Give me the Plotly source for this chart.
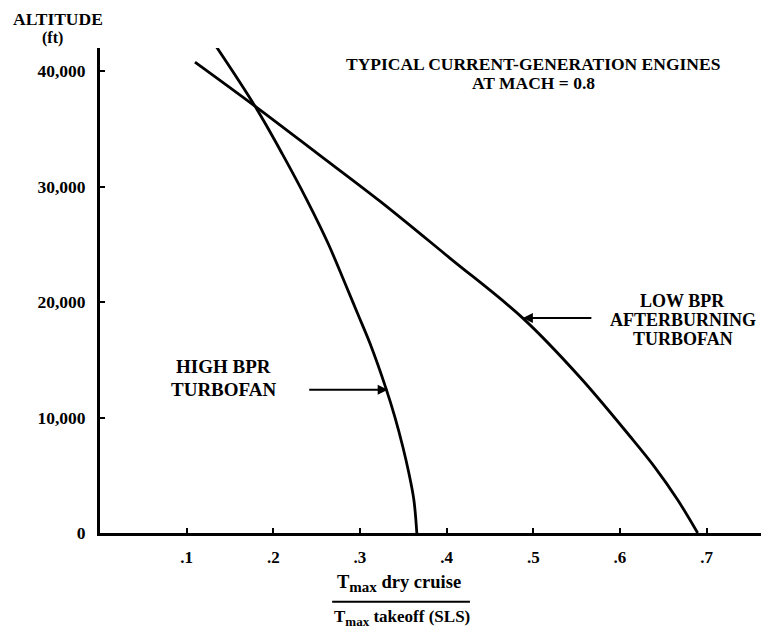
import plotly.graph_objects as go

# ---- data ----
high_bpr_x = [0.1315, 0.1788, 0.2105, 0.2388, 0.2630, 0.2826, 0.2970, 0.3114, 0.3299, 0.3403, 0.3495, 0.3564, 0.3622, 0.3656]
high_bpr_alt = [42420, 36970, 32810, 28830, 25110, 21650, 19050, 16450, 12550, 10040, 7450, 5190, 2860, 0]

low_bpr_x = [0.1096, 0.1788, 0.2503, 0.3230, 0.4037, 0.4879, 0.5536, 0.6113, 0.6401, 0.6667, 0.6897]
low_bpr_alt = [40780, 36970, 32900, 28740, 23810, 18610, 13510, 8400, 5710, 2860, 0]

x_tickvals = [0.1, 0.2, 0.3, 0.4, 0.5, 0.6, 0.7]
x_ticktext = [".1", ".2", ".3", ".4", ".5", ".6", ".7"]
y_tickvals = [0, 10000, 20000, 30000, 40000]
y_ticktext = ["0", "10,000", "20,000", "30,000", "40,000"]

FONT = "Liberation Serif"
BLACK = "#000000"

fig = go.Figure()
for xs, ys in [(high_bpr_x, high_bpr_alt), (low_bpr_x, low_bpr_alt)]:
    fig.add_trace(go.Scatter(x=xs, y=ys, mode="lines",
                             line=dict(color=BLACK, width=2.8, shape="spline", smoothing=1.0),
                             showlegend=False, hoverinfo="skip", cliponaxis=False))


def txt(text, size=17, **kw):
    d = dict(text=text, showarrow=False, font=dict(size=size, family=FONT, color=BLACK, weight="bold"))
    d.update(kw)
    return d


def frac_part(main, subsize):
    return "T<sub><span style='font-size:%dpx'>max</span></sub> %s" % (subsize, main)


anns = []
# axis title (top-left)
anns.append(txt("ALTITUDE", 17.5, xref="paper", yref="paper", x=-0.0635, y=1.0, xanchor="center",
                yanchor="middle", yshift=29))
anns.append(txt("(ft)", 16, xref="paper", yref="paper", x=-0.0717, y=1.0, xanchor="center",
                yanchor="middle", yshift=10))
# chart title block
anns.append(txt("TYPICAL CURRENT-GENERATION ENGINES", 17.5, xref="x", yref="y", x=0.5, y=40000,
                xanchor="center", yanchor="middle", yshift=7))
anns.append(txt("AT MACH = 0.8", 17.5, xref="x", yref="y", x=0.5, y=40000,
                xanchor="center", yanchor="middle", yshift=-12))
# series labels
for i, t in enumerate(["HIGH BPR", "TURBOFAN"]):
    anns.append(txt(t, 19, xref="x", yref="y", x=0.1424, y=13380, xanchor="center",
                    yanchor="middle", yshift=11.5 - 23 * i))
for i, t in enumerate(["LOW BPR", "AFTERBURNING", "TURBOFAN"]):
    anns.append(txt(t, 18, xref="x", yref="y", x=0.6725, y=18440, xanchor="center",
                    yanchor="middle", yshift=19 - 19 * i))
# arrows
anns.append(dict(text="", x=0.332, y=12400, xref="x", yref="y", ax=-80, ay=0, showarrow=True,
                 arrowhead=2, arrowsize=1, arrowwidth=2, arrowcolor=BLACK))
anns.append(dict(text="", x=0.488, y=18615, xref="x", yref="y", ax=70, ay=0, showarrow=True,
                 arrowhead=2, arrowsize=1, arrowwidth=2, arrowcolor=BLACK))
# x origin label
anns.append(txt("0", 17, xref="x", yref="paper", x=-0.014, y=0, xanchor="center",
                yanchor="middle", yshift=-24))
# x axis title as a fraction
anns.append(txt(frac_part("dry cruise", 15), 18.5, xref="paper", yref="paper", x=0.447, y=0,
                xanchor="center", yanchor="middle", yshift=-50))
anns.append(txt(frac_part("takeoff (SLS)", 13), 17, xref="paper", yref="paper", x=0.451, y=0,
                xanchor="center", yanchor="middle", yshift=-85))

# The page body has an 8px default margin, so the figure is sized to fit the window.
fig.update_layout(
    width=761, height=622,
    margin=dict(l=92, r=0, t=40, b=97, autoexpand=False),
    paper_bgcolor="white", plot_bgcolor="white",
    font=dict(family=FONT, color=BLACK, size=16),
    annotations=anns,
    shapes=[dict(type="line", xref="paper", yref="paper", x0=0.347, x1=0.553, y0=-0.142, y1=-0.142,
                 line=dict(color=BLACK, width=2))],
    xaxis=dict(range=[0, 0.772], showline=True, linewidth=3, linecolor=BLACK, showgrid=False,
               zeroline=False, ticks="inside", ticklen=5, tickwidth=2, tickcolor=BLACK,
               tickvals=x_tickvals, ticktext=x_ticktext, automargin=False,
               tickfont=dict(size=17, family=FONT, color=BLACK, weight="bold"),
               ticklabelstandoff=7),
    yaxis=dict(range=[0, 42000], showline=True, linewidth=3, linecolor=BLACK, showgrid=False,
               zeroline=False, ticks="inside", ticklen=5, tickwidth=2, tickcolor=BLACK,
               tickvals=y_tickvals, ticktext=y_ticktext, automargin=False,
               tickfont=dict(size=17.5, family=FONT, color=BLACK, weight="bold"),
               ticklabelstandoff=8),
)

fig.write_html("out.html")
